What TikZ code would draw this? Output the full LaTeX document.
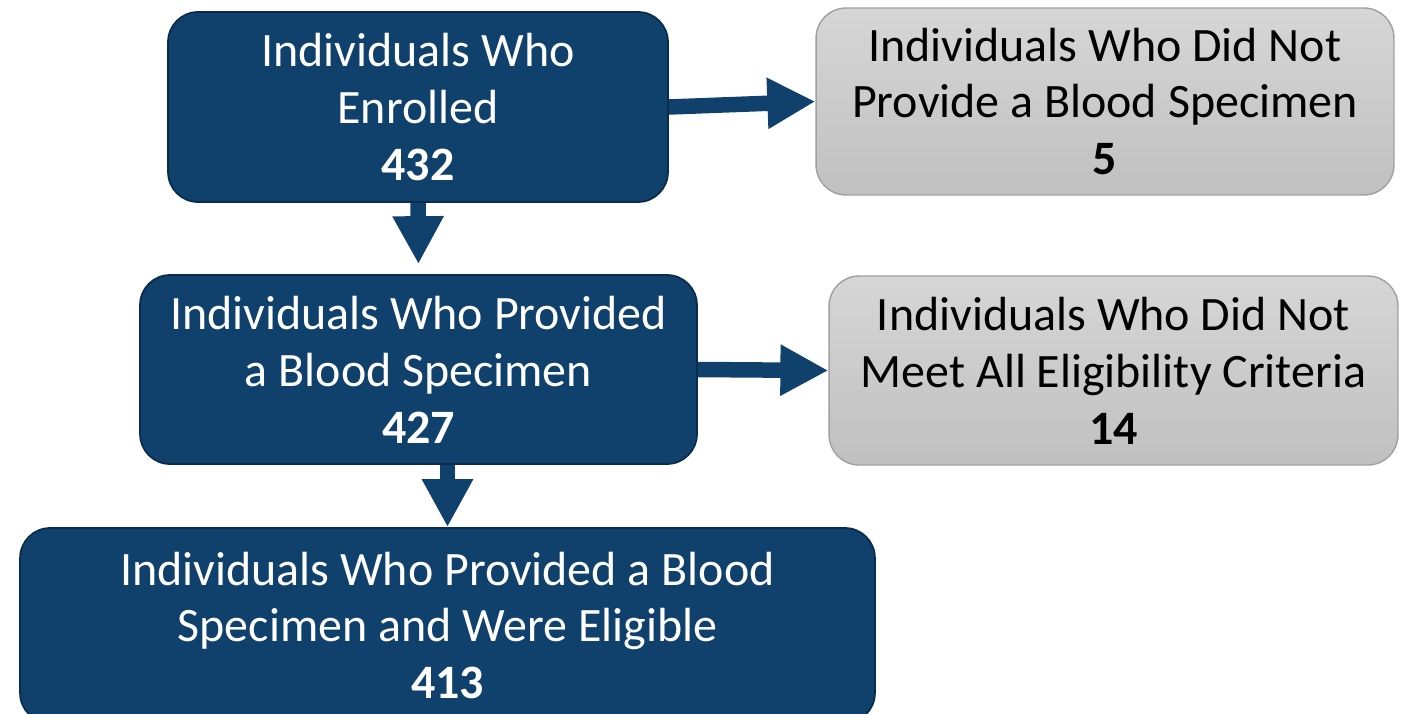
\documentclass[tikz,border=0pt]{standalone}
\usepackage{fontspec}
\setmainfont{Carlito}
\usetikzlibrary{arrows.meta,positioning}
\definecolor{boxblue}{RGB}{16,64,108}
\definecolor{edgeblue}{RGB}{10,44,76}
\definecolor{graytop}{RGB}{214,214,214}
\definecolor{graybot}{RGB}{192,192,192}
\definecolor{grayedge}{RGB}{160,160,160}
\tikzset{
  flowbox/.style={rectangle,rounded corners=0.6cm,inner sep=0pt,align=center,
                  font=\fontsize{27.3pt}{32.4pt}\selectfont},
  bluebox/.style={flowbox,fill=boxblue,draw=edgeblue,line width=1pt,text=white},
  graybox/.style={flowbox,top color=graytop,bottom color=graybot,draw=grayedge,
                  line width=0.8pt,text=black},
  flowarrow/.style={draw=boxblue,line width=0.31cm,
                    -{Triangle[length=0.96cm,width=0.96cm]}}
}

\begin{document}
\begin{tikzpicture}[x=0.02cm,y=-0.02cm]
\useasboundingbox (0,0) rectangle (1409,713);
%% Main flow
\node[bluebox,minimum width=10cm,minimum height=3.8cm] (enrolled) at (418,107)
  {Individuals Who\\Enrolled\\\textbf{432}};
\node[bluebox,minimum width=11.14cm,minimum height=3.78cm] (provided) at (418.5,369.5)
  {Individuals Who Provided\\a Blood Specimen\\\textbf{427}};
\node[bluebox,minimum width=17.1cm,minimum height=3.9cm] (eligible) at (447.5,625.5)
  {Individuals Who Provided a Blood\\Specimen and Were Eligible\\\textbf{413}};
%% Exclusions
\node[graybox,minimum width=11.56cm,minimum height=3.74cm] (noblood) at (1105,101.5)
  {Individuals Who Did Not\\Provide a Blood Specimen\\\textbf{5}};
\node[graybox,minimum width=11.38cm,minimum height=3.78cm] (noteligible) at (1113.5,370.5)
  {Individuals Who Did Not\\Meet All Eligibility Criteria\\\textbf{14}};
%% Arrows
\draw[flowarrow] (enrolled.east) -- (noblood.west);
\draw[flowarrow,shorten >=0.2cm] (enrolled.south) -- (provided.north);
\draw[flowarrow] (provided.east) -- (noteligible.west);
\draw[flowarrow] (provided.south -| eligible.north) -- (eligible.north);
\end{tikzpicture}
\end{document}
